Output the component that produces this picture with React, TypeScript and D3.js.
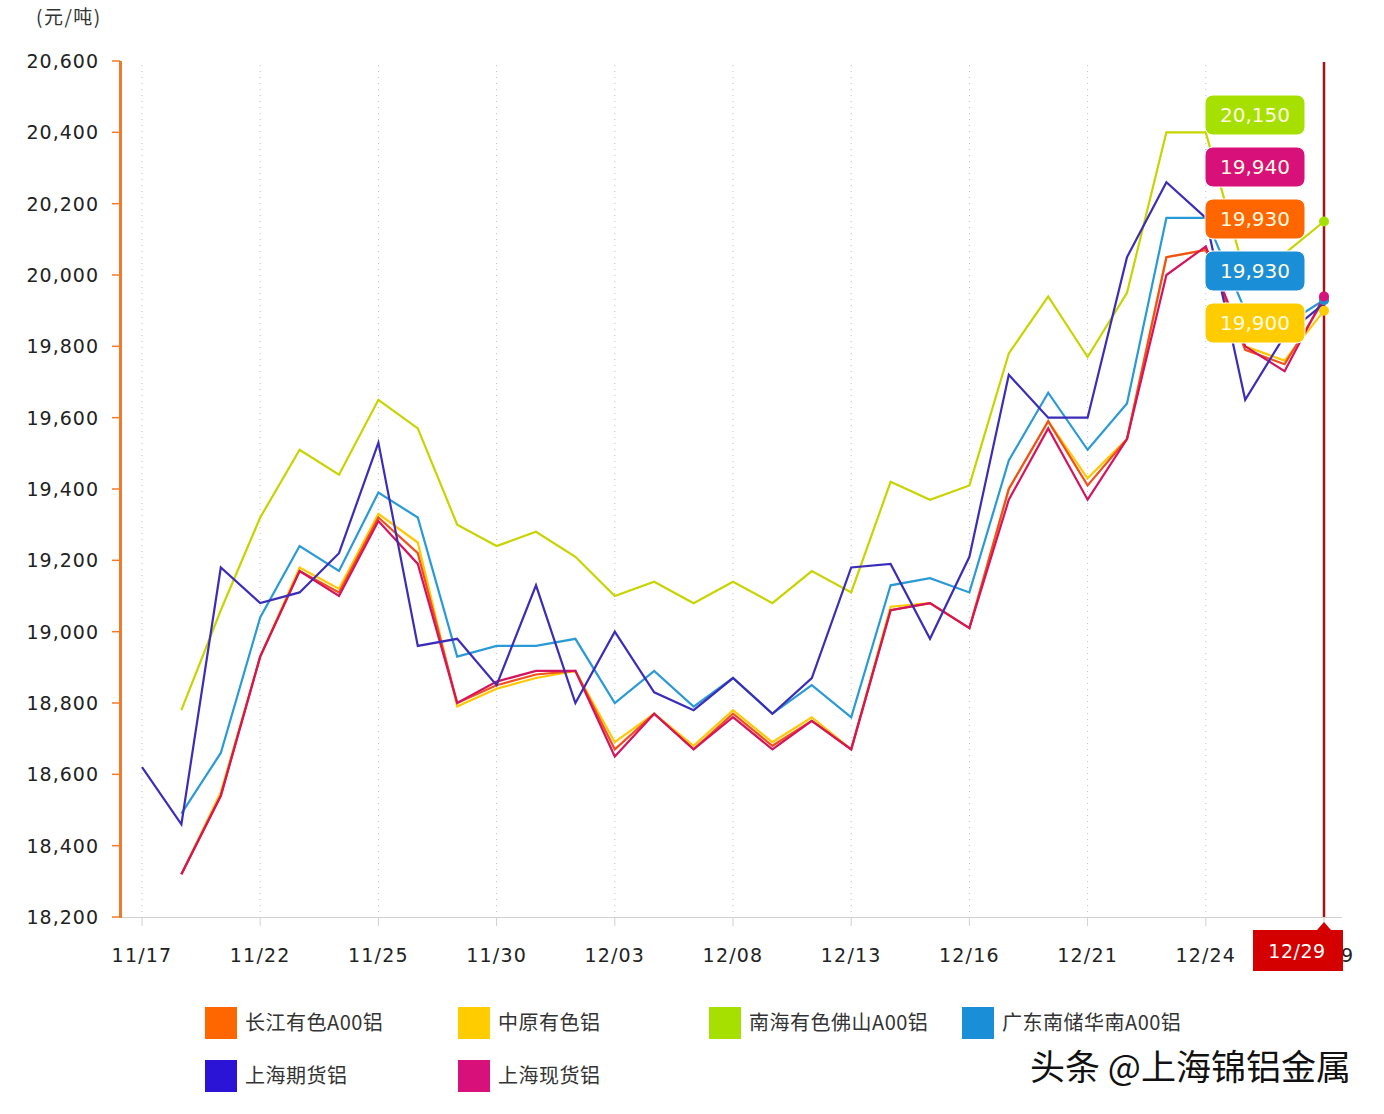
import React from "react";
import * as d3 from "d3";

const dates = ["11/17","11/18","11/19","11/22","11/23","11/24","11/25","11/26","11/29","11/30","12/01","12/02","12/03","12/06","12/07","12/08","12/09","12/10","12/13","12/14","12/15","12/16","12/17","12/20","12/21","12/22","12/23","12/24","12/27","12/28","12/29"];
const tickLabels = ["11/17","11/22","11/25","11/30","12/03","12/08","12/13","12/16","12/21","12/24","12/29"];
const yTicks = [18200,18400,18600,18800,19000,19200,19400,19600,19800,20000,20200,20400,20600];

const changjiang = [null,18320,18540,18930,19170,19110,19320,19220,18800,18850,18880,18890,18670,18770,18670,18770,18680,18750,18670,19060,19080,19010,19400,19590,19410,19540,20050,20070,19790,19750,19930];
const zhongyuan = [null,18320,18550,18930,19180,19120,19330,19250,18790,18840,18870,18890,18690,18770,18680,18780,18690,18760,18670,19070,19080,19010,19400,19590,19430,19540,20050,20070,19800,19760,19900];
const nanhai = [null,18780,19060,19320,19510,19440,19650,19570,19300,19240,19280,19210,19100,19140,19080,19140,19080,19170,19110,19420,19370,19410,19780,19940,19770,19950,20400,20400,20000,20060,20150];
const guangdong = [null,18490,18660,19040,19240,19170,19390,19320,18930,18960,18960,18980,18800,18890,18790,18870,18770,18850,18760,19130,19150,19110,19480,19670,19510,19640,20160,20160,19900,19860,19930];
const shFutures = [18620,18460,19180,19080,19110,19220,19530,18960,18980,18850,19130,18800,19000,18830,18780,18870,18770,18870,19180,19190,18980,19210,19720,19600,19600,20050,20260,20160,19650,19830,19920];
const shSpot = [null,18320,18540,18930,19170,19100,19310,19190,18800,18860,18890,18890,18650,18770,18670,18760,18670,18750,18670,19060,19080,19010,19370,19570,19370,19540,20000,20080,19800,19730,19940];

const seriesNames = ["长江有色A00铝","中原有色铝","南海有色佛山A00铝","广东南储华南A00铝","上海期货铝","上海现货铝"];
const legendColors = ["#ff6600","#ffcc00","#a6e000","#1a8fd8","#2b14d6","#d8107a"];
const lineColors = ["#f0501e","#ffc800","#c8d400","#2a9ad6","#3b2db8","#d4145e"];
const seriesData = [changjiang, zhongyuan, nanhai, guangdong, shFutures, shSpot];
const drawOrder = [2, 3, 1, 0, 5, 4];

const labelOrder = [2, 5, 0, 3, 1];

export default function App() {
  const W = 1384, H = 1114;
  const x = d3.scalePoint<string>().domain(dates).range([142, 1324]);
  const y = d3.scaleLinear().domain([18200, 20600]).range([917, 61]);
  const line = d3.line<number | null>()
    .defined((d) => d != null)
    .x((_, i) => x(dates[i]) as number)
    .y((d) => y(d as number));
  const lastX = x(dates[dates.length - 1]) as number;
  const font = "'DejaVu Sans', Verdana, sans-serif";
  const cjk = "'Noto Sans CJK SC', 'DejaVu Sans', sans-serif";

  return (
    <div style={{ position: "absolute", left: 0, top: 0 }}>
      <svg width={W} height={H} style={{ display: "block", background: "#fff" }}>
        <text x={36} y={24} fontFamily={cjk} fontSize={19} fill="#333" letterSpacing={1.5}>(元/吨)</text>
        {/* vertical dotted gridlines */}
        {tickLabels.map((t) => (
          <line key={"g" + t} x1={x(t)} x2={x(t)} y1={65} y2={917} stroke="#b8bfd8" strokeWidth={1} strokeDasharray="1,5" />
        ))}
        {/* x axis baseline */}
        <line x1={120} x2={1342} y1={917.5} y2={917.5} stroke="#d0d0d0" strokeWidth={1} />
        {tickLabels.map((t) => (
          <line key={"xt" + t} x1={x(t)} x2={x(t)} y1={917} y2={926} stroke="#d0d0d0" strokeWidth={1} />
        ))}
        {tickLabels.map((t) => (
          <text key={"xl" + t} x={x(t)} y={962} textAnchor="middle" fontFamily={font} fontSize={19} letterSpacing={1.2} fill="#222">{t}</text>
        ))}
        {/* y axis */}
        <line x1={120.5} x2={120.5} y1={61} y2={918} stroke="#f07a2a" strokeWidth={3} />
        {yTicks.map((v) => (
          <g key={"yt" + v}>
            <line x1={112} x2={120} y1={y(v)} y2={y(v)} stroke="#f07a2a" strokeWidth={1.5} />
            <text x={99} y={y(v) + 7} textAnchor="end" fontFamily={font} fontSize={19} letterSpacing={1} fill="#222">{d3.format(",")(v)}</text>
          </g>
        ))}
        {/* series lines */}
        {drawOrder.map((si) => (
          <path key={"s" + si} d={line(seriesData[si] as (number | null)[]) || ""} fill="none" stroke={lineColors[si]} strokeWidth={2.2} strokeLinejoin="miter" />
        ))}
        {/* crosshair */}
        <line x1={lastX} x2={lastX} y1={62} y2={917} stroke="#a01515" strokeWidth={2.5} />
        {/* last point markers */}
        {[2, 1, 0, 3, 5].map((si) => {
          const arr = seriesData[si];
          const v = arr[arr.length - 1] as number;
          return <circle key={"m" + si} cx={lastX} cy={y(v)} r={5} fill={legendColors[si]} />;
        })}
        {/* value labels */}
        {labelOrder.map((si, k) => {
          const arr = seriesData[si];
          const v = arr[arr.length - 1] as number;
          const cy = 115 + k * 52;
          return (
            <g key={"lab" + si}>
              <rect x={1205} y={cy - 20} width={100} height={40} rx={8} fill={legendColors[si]} stroke="#fff" strokeWidth={1} />
              <text x={1255} y={cy + 7} textAnchor="middle" fontFamily={font} fontSize={20} fill="#fffbe0">{d3.format(",")(v)}</text>
            </g>
          );
        })}
        {/* x tooltip */}
        <path d={`M${lastX - 7},930 L${lastX},922 L${lastX + 7},930 Z`} fill="#d40000" />
        <rect x={1253} y={930} width={90} height={41} fill="#d40000" />
        <text x={1297} y={958} textAnchor="middle" fontFamily={font} fontSize={19} letterSpacing={0.5} fill="#fff">{dates[dates.length - 1]}</text>
        {/* legend */}
        {seriesNames.map((n, i) => {
          const col = i % 4, row = Math.floor(i / 4);
          const lx = [205, 458, 709, 962][col];
          const ly = 1007 + row * 53;
          return (
            <g key={"lg" + i}>
              <rect x={lx} y={ly} width={32} height={32} fill={legendColors[i]} />
              <text x={lx + 40} y={ly + 23} fontFamily={cjk} fontSize={20} letterSpacing={0.5} fill="#333">{n}</text>
            </g>
          );
        })}
        {/* watermark */}
        <text x={1030} y={1080} fontFamily={cjk} fontSize={35} fill="#111" stroke="#fff" strokeWidth={1} paintOrder="stroke">头条 @上海锦铝金属</text>
      </svg>
    </div>
  );
}
